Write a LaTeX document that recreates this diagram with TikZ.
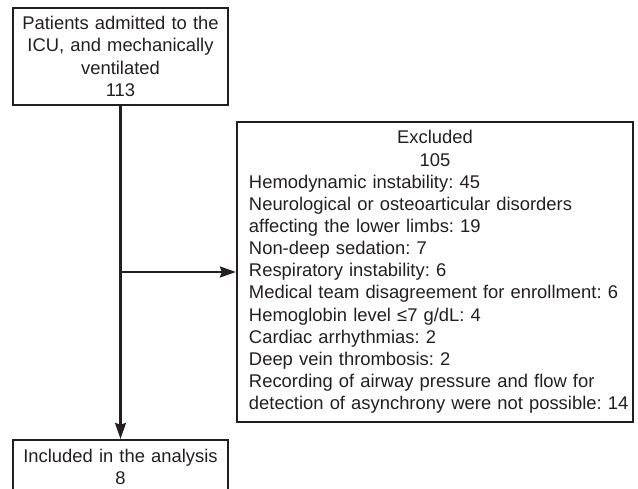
\documentclass[tikz,border=0pt]{standalone}
\usepackage{fontspec}
\setmainfont{Liberation Sans}
\usepackage{tikz}
\usetikzlibrary{arrows.meta}

\definecolor{ink}{RGB}{35,31,32}
\tikzset{
	flowbox/.style = {draw = ink, rectangle, line width = 1.9pt, inner sep = 0pt, text = ink,
		font = \fontsize{15.7}{18.9}\selectfont\frenchspacing},
	flowline/.style = {draw = ink, line width = 1.9pt, -{Stealth[length = 4.8mm, width = 3.3mm, inset = .6mm]}}
}

\begin{document}
\begin{tikzpicture}[x = .03cm , y = -.03cm]
\useasboundingbox (0 ,0) rectangle (638 ,489);
\node [flowbox , minimum width = 6.45cm , minimum height = 2.91cm , text width = 6.2cm , align = center] (admitted) at (120.5 ,56.5) {
	Patients admitted to the\\ ICU, and mechanically\\ ventilated\\ 113
};
\node [flowbox , minimum width = 11.88cm , minimum height = 9cm , text width = 11.7cm] (excluded) at (435 ,272) {
	\centering Excluded\\ 105\par
	\raggedright \leftskip = .27cm
	Hemodynamic instability: 45\\
	Neurological or osteoarticular disorders\\
	affecting the lower limbs: 19\\
	Non-deep sedation: 7\\
	Respiratory instability: 6\\
	Medical team disagreement for enrollment: 6\\
	Hemoglobin level ≤7 g/dL: 4\\
	Cardiac arrhythmias: 2\\
	Deep vein thrombosis: 2\\
	Recording of airway pressure and flow for\\
	detection of asynchrony were not possible: 14\par
};
\node [flowbox , minimum width = 6.45cm , minimum height = 1.62cm , text width = 6.2cm , align = center] (included) at (120.5 ,467) {
	Included in the analysis\\ 8
};
\coordinate (split) at (admitted.south |- excluded.west);
\draw [flowline] (admitted.south) -- (included.north);
\draw [flowline] (split) -- (excluded.west);
\end{tikzpicture}
\end{document}
